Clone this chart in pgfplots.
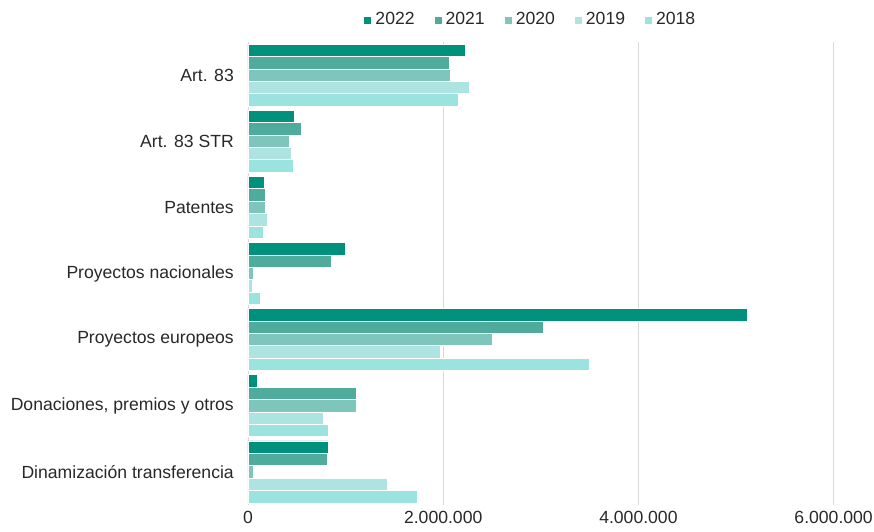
\documentclass[border=0pt]{standalone}
\usepackage{fontspec}
\setmainfont{Liberation Sans}
\usepackage{pgfplots}
\pgfplotsset{compat=1.18}
\definecolor{c22}{RGB}{0,145,124}
\definecolor{c21}{RGB}{79,171,155}
\definecolor{c20}{RGB}{126,197,188}
\definecolor{c19}{RGB}{173,227,224}
\definecolor{c18}{RGB}{155,227,223}
\definecolor{txt}{RGB}{40,40,40}
\definecolor{grd}{RGB}{217,217,217}
\begin{document}
\fontsize{17.6}{20}\selectfont
\begin{tikzpicture}
\begin{axis}[
  name=ax,
  scale only axis,
  width=614.9pt, height=463pt,
  xmin=0, xmax=6300000,
  ymin=-0.5, ymax=6.5,
  xbar, bar width=12.4pt,
  xtick={0,2000000,4000000,6000000},
  xticklabels={0,2.000.000,4.000.000,6.000.000},
  ytick={0,...,6},
  yticklabels={Dinamización transferencia,{Donaciones, premios y otros},Proyectos europeos,Proyectos nacionales,Patentes,Art. 83 STR,Art. 83},
  major tick length=0pt,
  xmajorgrids, grid style={grd, line width=0.8pt},
  axis x line*=bottom,
  x axis line style={draw=none},
  axis y line*=left,
  y axis line style={grd, line width=0.8pt, -},
  tick label style={font=\fontsize{17.6}{20}\selectfont, text=txt},
  yticklabel style={inner xsep=0pt, xshift=-14pt},
  xticklabel style={inner ysep=0pt, yshift=-6pt},
  legend columns=5,
  legend style={draw=none, at={(0.46,1.0475)}, anchor=center, font=\fontsize{17.6}{20}\selectfont, text=txt,
    /tikz/every even column/.append style={column sep=18pt},
    /tikz/every odd column/.append style={column sep=2pt}},
  legend image code/.code={\fill[#1, draw=none] (0pt,-3.5pt) rectangle (7pt,3.5pt);},
  every axis plot/.append style={draw=white, line width=0.7pt},
]
\addplot[fill=c22, bar shift=24.8pt] coordinates {(820000,0) (100000,1) (5120000,2) (1000000,3) (170000,4) (470000,5) (2230000,6)};
\addplot[fill=c21, bar shift=12.4pt] coordinates {(810000,0) (1110000,1) (3030000,2) (850000,3) (180000,4) (550000,5) (2060000,6)};
\addplot[fill=c20, bar shift=0pt] coordinates {(50000,0) (1110000,1) (2500000,2) (50000,3) (180000,4) (420000,5) (2070000,6)};
\addplot[fill=c19, bar shift=-12.4pt] coordinates {(1430000,0) (770000,1) (1970000,2) (45000,3) (200000,4) (440000,5) (2270000,6)};
\addplot[fill=c18, bar shift=-24.8pt] coordinates {(1730000,0) (820000,1) (3500000,2) (125000,3) (160000,4) (460000,5) (2160000,6)};
\legend{2022,2021,2020,2019,2018}
\end{axis}
\pgfresetboundingbox
\path[use as bounding box] (ax.south west) ++(-248pt,-26pt) rectangle ++(874pt,531pt);
\end{tikzpicture}
\end{document}
